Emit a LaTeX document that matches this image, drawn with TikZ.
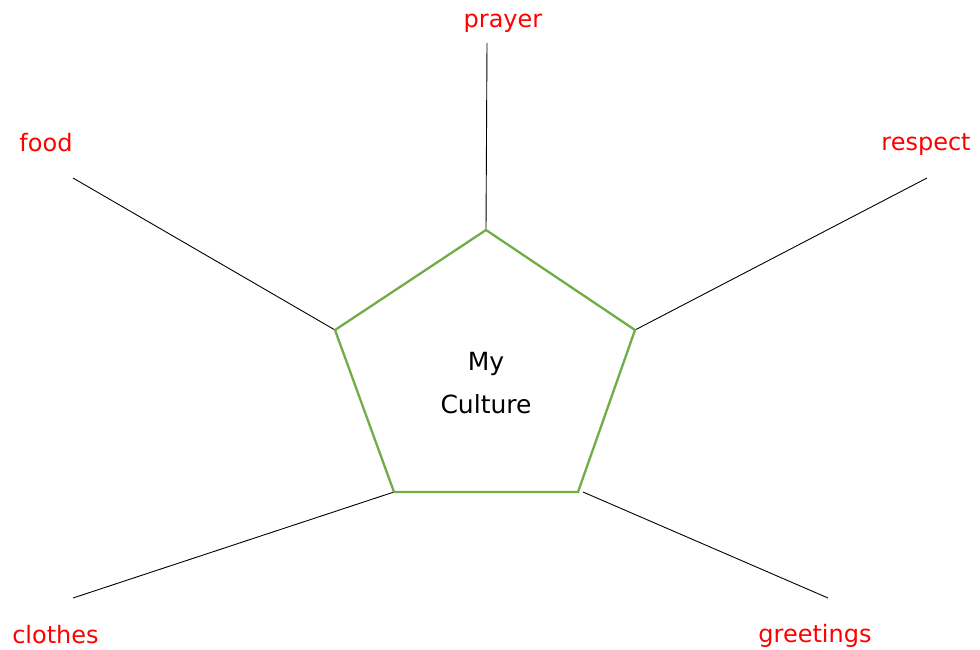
\documentclass[tikz,border=0pt]{standalone}
\usepackage{fontspec}
\setmainfont{DejaVu Sans}
\begin{document}
\begin{tikzpicture}[x=1pt,y=-1pt,
  lbl/.style={text=red,font=\fontsize{24}{27}\selectfont,inner sep=0pt,anchor=base},
  ctext/.style={text=black,font=\fontsize{25}{29}\selectfont,inner sep=0pt,anchor=base},
  spoke/.style={draw=black,line width=0.9pt},
  pent/.style={draw={rgb,255:red,112;green,173;blue,71},line width=2.3pt}]
\useasboundingbox (0,0) rectangle (980,650);
% pentagon vertices
\coordinate (vT) at (486,230);
\coordinate (vR) at (635,330);
\coordinate (vBR) at (578,492);
\coordinate (vBL) at (394,492);
\coordinate (vL) at (335,330);
% spoke outer ends
\coordinate (ePrayer) at (487,43);
\coordinate (eFood) at (73,178);
\coordinate (eRespect) at (927,178);
\coordinate (eClothes) at (73,598);
\coordinate (eGreet) at (828,598);
\coordinate (sGreet) at (583,492);
% spokes
\draw[spoke] (ePrayer) -- (vT);
\draw[spoke] (eFood) -- (vL);
\draw[spoke] (eRespect) -- (vR);
\draw[spoke] (eClothes) -- (vBL);
\draw[spoke] (eGreet) -- (sGreet);
% pentagon
\draw[pent,line join=miter] (vT) -- (vR) -- (vBR) -- (vBL) -- (vL) -- cycle;
\node[ctext] (my) at (486,370) {My};
\node[ctext] (culture) at (486,413) {Culture};
% labels
\node[lbl] (prayer) at (503,28) {prayer};
\node[lbl] (food) at (46,152) {food};
\node[lbl] (respect) at (926,150) {respect};
\node[lbl] (clothes) at (55.5,643) {clothes};
\node[lbl] (greetings) at (815,642) {greetings};
\end{tikzpicture}
\end{document}
